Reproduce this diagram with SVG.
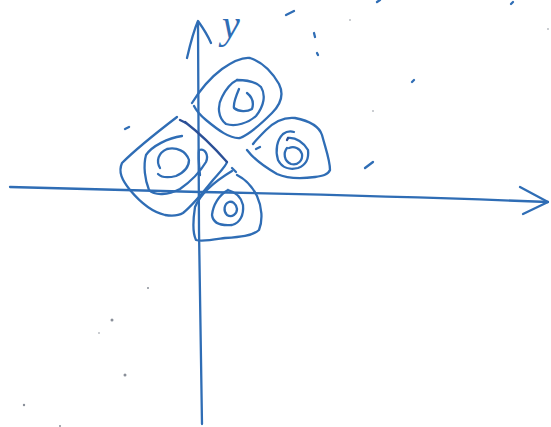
<svg xmlns="http://www.w3.org/2000/svg" width="551" height="427" viewBox="0 0 551 427">
<style>
.ink{fill:none;stroke:#2f6db5;stroke-width:2.3;stroke-linecap:round;stroke-linejoin:round}
.dk{fill:none;stroke:#2b4f96;stroke-width:2.3;stroke-linecap:round;stroke-linejoin:round}
.dot{fill:#8a8f99}
.lbl{font-family:"Liberation Serif",serif;font-style:italic;font-size:40px;fill:#2f6db5}
</style>
<rect width="551" height="427" fill="#ffffff"/>
<g id="axes">
<path class="ink" d="M10,187 C80,189 150,191 200,192 C300,194 420,197 548,202"/>
<path class="ink" d="M520,187 L548,202 L523,214"/>
<path class="ink" d="M202,424 L199,230 L198,22"/>
<path class="ink" d="M187,58 C190,45 194,30 198,21 C203,28 208,36 211,43"/>
<text class="lbl" x="222" y="38">y</text>
</g>
<g id="petal-top">
<path class="ink" d="M192,103 C200,90 210,78 222,69 C232,62 242,57 250,58 C262,62 272,72 279,84 C284,94 282,103 272,113 C262,123 250,134 240,138 C230,139 218,130 206,120 C200,115 196,110 194,106"/>
<path class="ink" d="M237,80 C245,80 255,81 261,87 C266,95 264,106 256,116 C248,123 236,127 226,124 C218,118 217,106 222,97 C226,89 231,83 237,80"/>
<path class="ink" d="M239,89 C236,96 233,103 234,108 C239,112 247,112 252,109 C254,103 252,97 247,93"/>
</g>
<g id="petal-left">
<path class="ink" d="M177,117 C160,130 135,150 122,163 C118,172 122,180 130,190 C140,202 152,212 165,215 C172,216 178,216 183,213 C193,205 205,190 213,180 C220,172 226,166 227,162"/>
<path class="dk" d="M185,122 C198,132 212,145 227,162"/>
<path class="ink" d="M182,136 C168,138 152,146 146,155 C143,166 145,180 149,190 C155,196 168,195 180,189 C190,182 200,172 206,162 C209,155 205,148 199,150 C198,156 199,165 200,175"/>
<path class="ink" d="M160,168 C156,161 158,153 167,149 C177,147 186,151 189,160 C189,167 185,172 176,176 C168,178 161,177 158,174"/>
<path class="dk" d="M186,123 L180,120"/>
</g>
<g id="petal-right">
<path class="ink" d="M247,150 C253,158 263,166 277,174 C286,178 300,179 315,177 C322,176 328,175 330,170 C330,160 326,150 322,135 C319,126 310,121 295,118 C285,117 275,121 266,130 C260,136 256,140 253,144"/>
<path class="ink" d="M288,138 C296,137 304,143 308,150 C309,158 306,165 298,168 C290,170 282,168 278,160 C275,150 277,140 283,134 C287,131 291,131 294,132"/>
<path class="ink" d="M287,148 C283,153 284,161 291,164 C298,166 303,160 302,154 C300,148 294,146 289,148"/>
<path class="dk" d="M288,138 L287,140"/>
</g>
<g id="petal-bottom">
<path class="ink" d="M237,175 C245,179 252,186 257,196 C262,207 263,220 259,230 C252,236 240,237 225,238 C212,240 202,242 196,240 C192,232 193,220 195,207 C200,195 212,183 232,171"/>
<path class="ink" d="M232,168 L236,172"/>
<path class="ink" d="M228,190 C219,195 213,205 212,215 C213,223 220,226 232,225 C240,223 244,215 243,205 C241,196 235,192 228,190"/>
<path class="ink" d="M229,202 C224,204 223,211 227,215 C232,218 237,214 237,209 C236,203 232,201 229,202"/>
</g>
<g id="marks">
<path class="ink" d="M286,15 L294,11"/>
<path class="ink" d="M314,33 L315,37"/>
<path class="ink" d="M317,53 L318,55"/>
<path class="ink" d="M377,2 L380,0"/>
<path class="ink" d="M511,4 L513,2"/>
<path class="ink" d="M412,82 L414,80"/>
<path class="ink" d="M365,168 L373,162"/>
<path class="ink" d="M256,149 L260,147"/>
<path class="ink" d="M125,129 L129,127"/>
<circle class="dot" cx="148" cy="288" r="1"/>
<circle class="dot" cx="112" cy="320" r="1.5"/>
<circle class="dot" cx="99" cy="333" r="0.8"/>
<circle class="dot" cx="125" cy="375" r="1.5"/>
<circle class="dot" cx="24" cy="405" r="1.2"/>
<circle class="dot" cx="60" cy="426" r="1"/>
<circle class="dot" cx="350" cy="20" r="0.8"/>
<circle class="dot" cx="373" cy="111" r="0.8"/>
<circle class="dot" cx="548" cy="29" r="0.8"/>
</g>
</svg>
